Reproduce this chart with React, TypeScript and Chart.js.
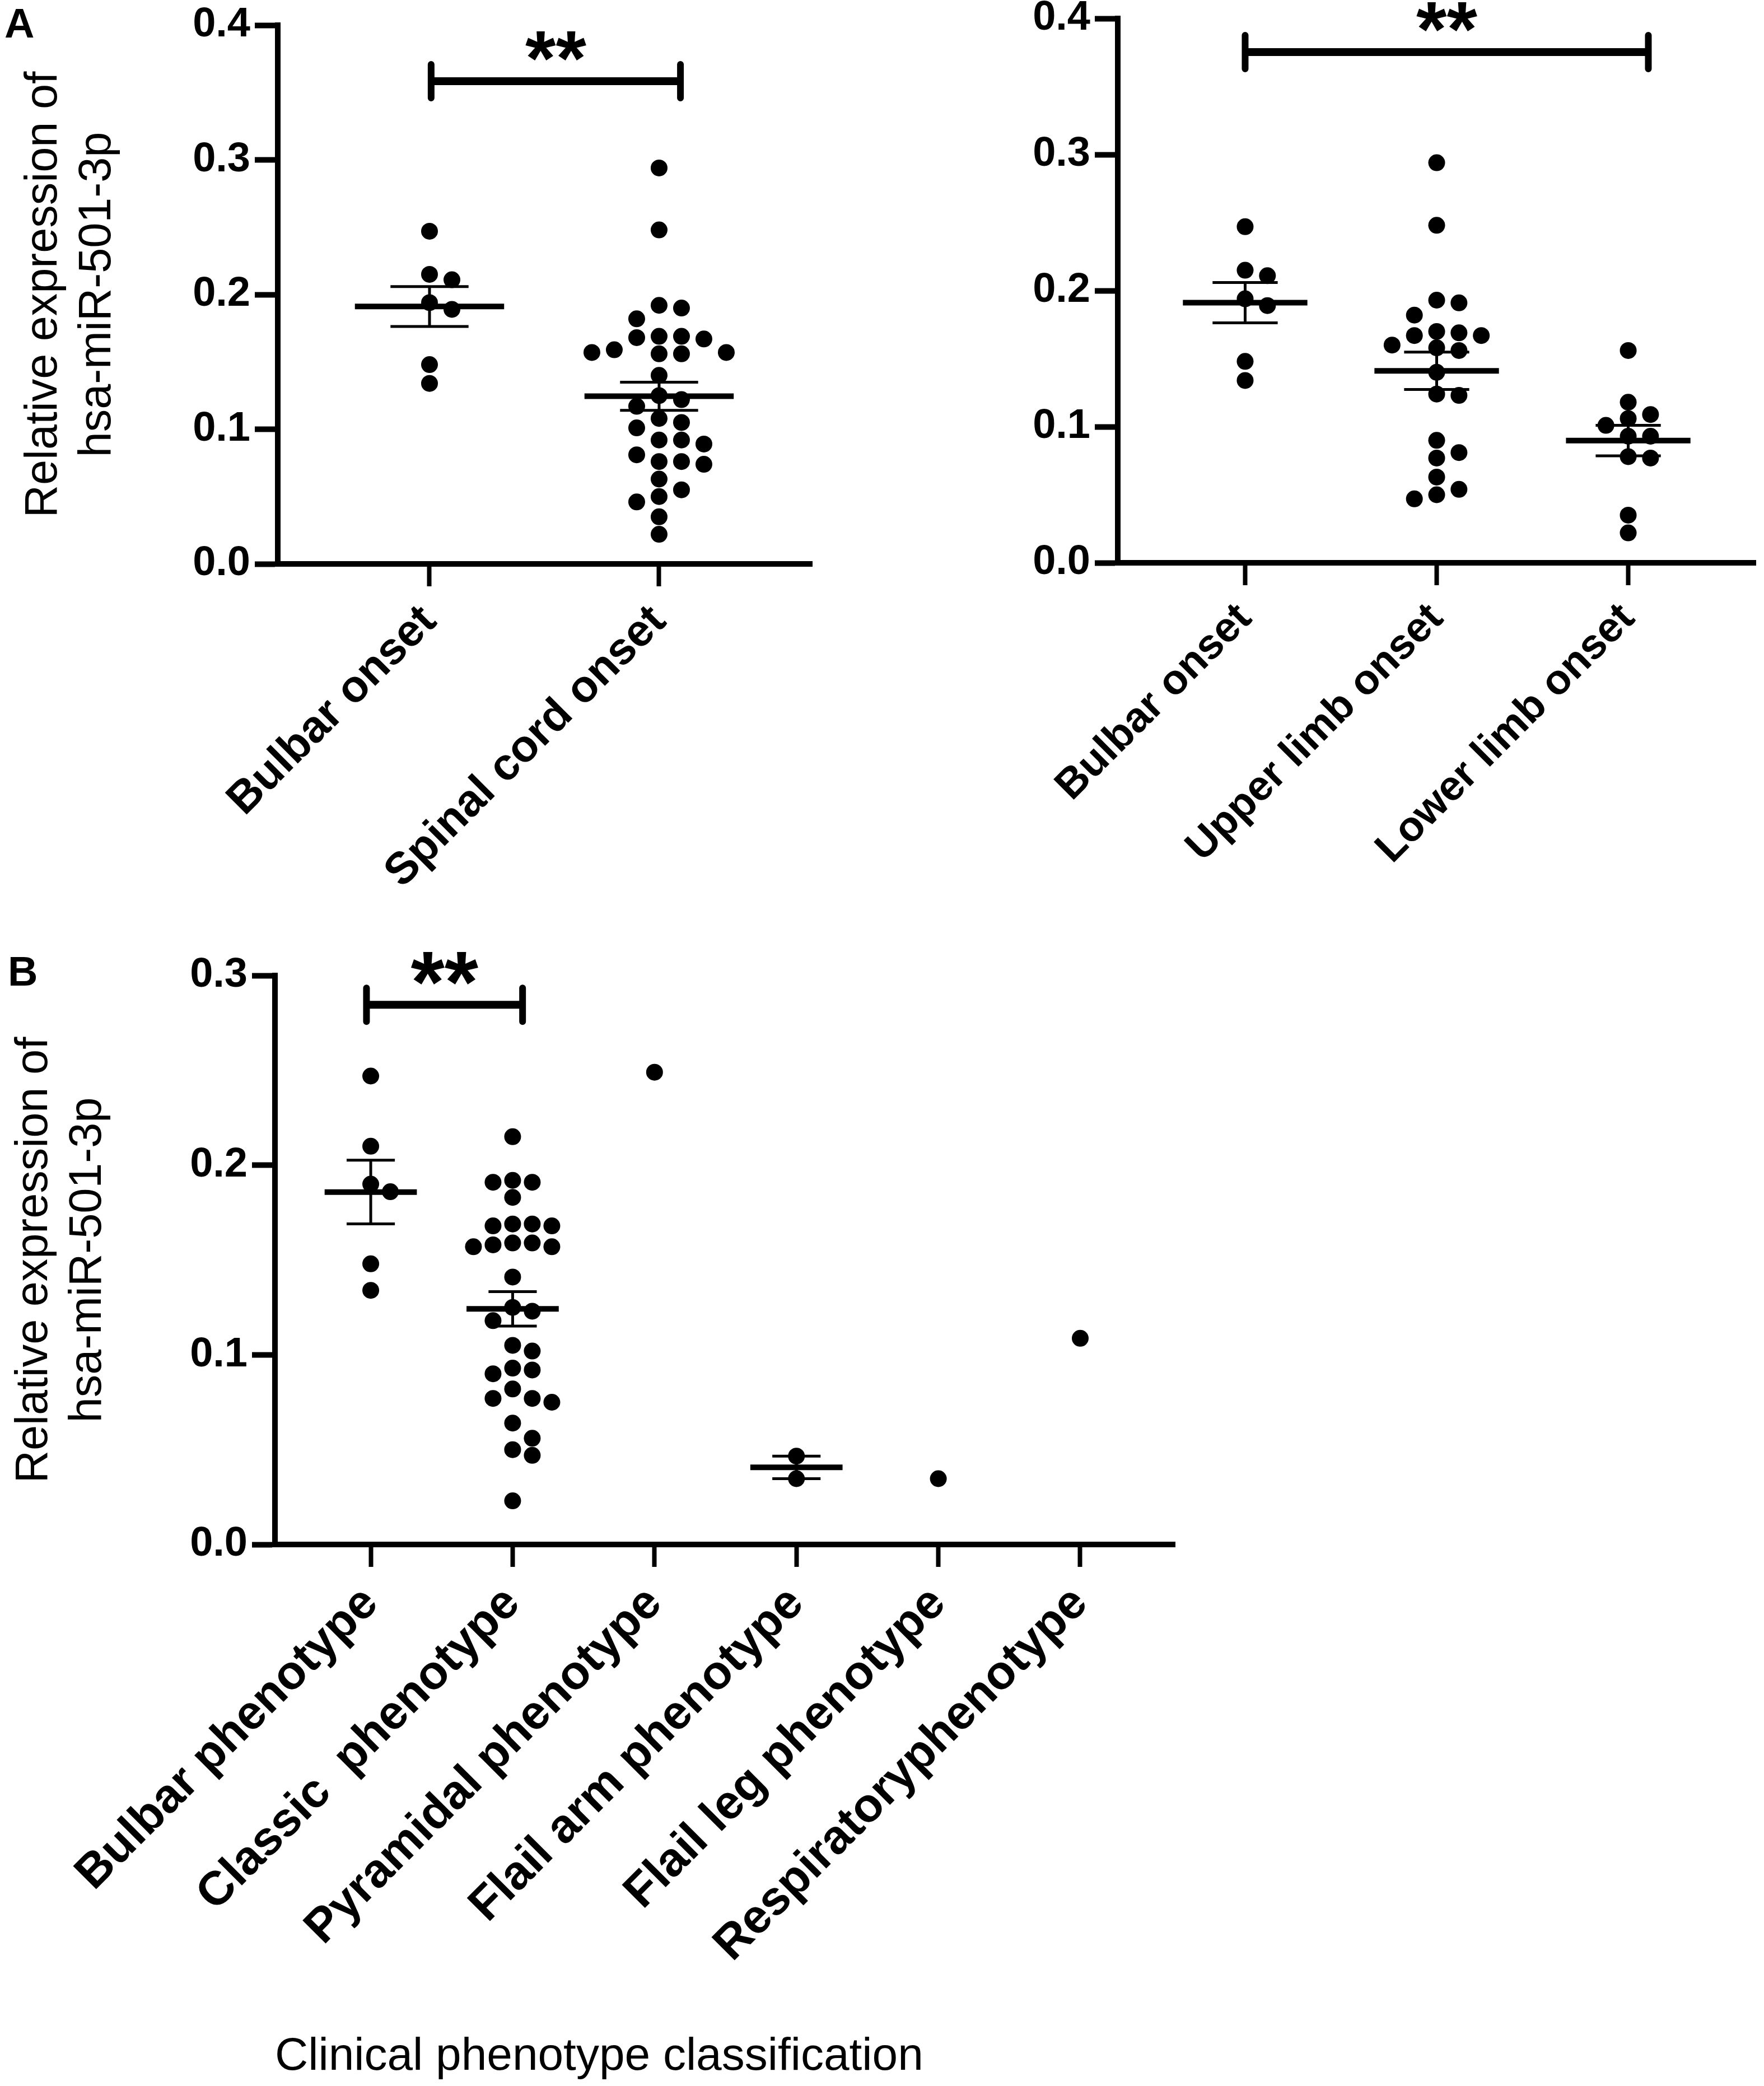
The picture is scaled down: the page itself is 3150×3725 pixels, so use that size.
import { useEffect, useRef } from 'react';
import { Chart, registerables } from 'chart.js';

Chart.register(...registerables);
Chart.defaults.font.family = '"Liberation Sans", Arial, sans-serif';
Chart.defaults.color = '#000';

// ---- categories ----
const onsetGroups = ['Bulbar onset', 'Spinal cord onset'];
const limbGroups = ['Bulbar onset', 'Upper limb onset', 'Lower limb onset'];
const phenotypeGroups = [
  'Bulbar phenotype',
  'Classic  phenotype',
  'Pyramidal phenotype',
  'Flail arm phenotype',
  'Flail leg phenotype',
  'Respiratoryphenotype',
];

// ---- values (relative expression) ----
const bulbarOnset = [0.247, 0.215, 0.211, 0.194, 0.189, 0.148, 0.134];
const spinalCordOnset = [
  0.294, 0.248, 0.192, 0.19, 0.182, 0.169, 0.169, 0.168, 0.167, 0.159, 0.157, 0.157,
  0.156, 0.156, 0.14, 0.125, 0.122, 0.117, 0.108, 0.105, 0.101, 0.092, 0.092, 0.089,
  0.081, 0.076, 0.076, 0.074, 0.063, 0.055, 0.05, 0.046, 0.035, 0.022,
];
const upperLimbOnset = [
  0.294, 0.248, 0.193, 0.191, 0.182, 0.17, 0.169, 0.167, 0.167, 0.16, 0.158, 0.156,
  0.14, 0.124, 0.123, 0.09, 0.081, 0.077, 0.063, 0.054, 0.05, 0.047,
];
const lowerLimbOnset = [0.156, 0.118, 0.109, 0.106, 0.101, 0.093, 0.093, 0.078, 0.077, 0.035, 0.022];

const bulbarPhenotype = [0.247, 0.21, 0.19, 0.186, 0.148, 0.134];
const classicPhenotype = [
  0.215, 0.192, 0.191, 0.191, 0.183, 0.169, 0.169, 0.168, 0.168, 0.159, 0.159, 0.158,
  0.157, 0.157, 0.141, 0.125, 0.123, 0.118, 0.105, 0.102, 0.093, 0.092, 0.09, 0.082,
  0.077, 0.077, 0.075, 0.064, 0.056, 0.05, 0.047, 0.023,
];
const pyramidalPhenotype = [0.249];
const flailArmPhenotype = [0.0466, 0.0347];
const flailLegPhenotype = [0.0347];
const respiratoryPhenotype = [0.1087];

// ---- axis ticks / titles ----
const onsetTicks = [0, 0.1, 0.2, 0.3, 0.4];
const phenotypeTicks = [0, 0.1, 0.2, 0.3];
const yTitle = ['Relative expression of', 'hsa-miR-501-3p'];
const xTitlePhenotype = 'Clinical phenotype classification';

interface Panel {
  key: string;
  left: number;
  top: number;
  width: number;
  height: number;
  area: { left: number; top: number; right: number; bottom: number };
  xMin: number;
  xMax: number;
  categories: string[];
  groups: number[][];
  yTicks: number[];
  yTitle?: string[];
  yTitlePad?: number;
  xTitle?: string;
  labelSize: number;
  starSize: number;
  starGap: number;
  bracket: { from: number; to: number; y: number };
  letter?: { text: string; x: number; y: number };
  colStep: number;
  radius: number;
}

const panels: Panel[] = [
  {
    key: 'a1',
    left: 0,
    top: 0,
    width: 1500,
    height: 1620,
    area: { left: 496, top: 45, right: 1450, bottom: 1007 },
    xMin: -0.661,
    xMax: 1.666,
    categories: onsetGroups,
    groups: [bulbarOnset, spinalCordOnset],
    yTicks: onsetTicks,
    yTitle,
    yTitlePad: 31,
    labelSize: 80,
    starSize: 140,
    starGap: 63,
    bracket: { from: 0.007, to: 1.093, y: 0.3584 },
    letter: { text: 'A', x: 8, y: 67 },
    colStep: 40,
    radius: 15,
  },
  {
    key: 'a2',
    left: 1500,
    top: 0,
    width: 1650,
    height: 1620,
    area: { left: 496, top: 33, right: 1640, bottom: 1005 },
    xMin: -0.665,
    xMax: 2.665,
    categories: limbGroups,
    groups: [bulbarOnset, upperLimbOnset, lowerLimbOnset],
    yTicks: onsetTicks,
    labelSize: 75,
    starSize: 140,
    starGap: 63,
    bracket: { from: 0, to: 2.105, y: 0.3753 },
    colStep: 40,
    radius: 15,
  },
  {
    key: 'b',
    left: 0,
    top: 1650,
    width: 2200,
    height: 2075,
    area: { left: 491, top: 92, right: 2098, bottom: 1108 },
    xMin: -0.675,
    xMax: 5.667,
    categories: phenotypeGroups,
    groups: [
      bulbarPhenotype,
      classicPhenotype,
      pyramidalPhenotype,
      flailArmPhenotype,
      flailLegPhenotype,
      respiratoryPhenotype,
    ],
    yTicks: phenotypeTicks,
    yTitle,
    yTitlePad: 14,
    xTitle: xTitlePhenotype,
    labelSize: 85,
    starSize: 155,
    starGap: 65,
    bracket: { from: -0.03, to: 1.07, y: 0.2846 },
    letter: { text: 'B', x: 14, y: 1760 - 1650 },
    colStep: 35,
    radius: 15,
  },
];

const mean = (v: number[]) => v.reduce((s, x) => s + x, 0) / v.length;
const sem = (v: number[]) => {
  const m = mean(v);
  const sd = Math.sqrt(v.reduce((s, x) => s + (x - m) * (x - m), 0) / (v.length - 1));
  return sd / Math.sqrt(v.length);
};

// simple beeswarm: pixel offsets so dots of one column don't overlap
function swarm(values: number[], pxPerVal: number, step: number, minDist: number): number[] {
  const order = values.map((_, i) => i).sort((a, b) => values[b] - values[a]);
  const placed: { x: number; y: number }[] = [];
  const offsets = new Array(values.length).fill(0);
  for (const i of order) {
    const py = values[i] * pxPerVal;
    for (let k = 0; k < 40; k++) {
      const cand = k === 0 ? 0 : (k % 2 === 1 ? 1 : -1) * Math.ceil(k / 2) * step;
      if (placed.every((p) => Math.hypot(p.x - cand, p.y - py) >= minDist)) {
        offsets[i] = cand;
        placed.push({ x: cand, y: py });
        break;
      }
    }
  }
  return offsets;
}

function DotPanel({ panel }: { panel: Panel }) {
  const canvasRef = useRef<HTMLCanvasElement>(null);

  useEffect(() => {
    if (!canvasRef.current) return;
    const p = panel;
    const yMax = p.yTicks[p.yTicks.length - 1];
    const pxPerCat = (p.area.right - p.area.left) / (p.xMax - p.xMin);
    const pxPerVal = (p.area.bottom - p.area.top) / yMax;

    const datasets = p.groups.map((vals, i) => {
      const offs = swarm(vals, pxPerVal, p.colStep, p.radius * 2 - 1);
      return {
        data: vals.map((v, j) => ({ x: i + offs[j] / pxPerCat, y: v })),
        backgroundColor: '#000',
        borderWidth: 0,
        pointRadius: p.radius,
        pointHoverRadius: p.radius,
      };
    });

    // mean ± SEM, significance bracket and panel letter
    const summary = {
      id: 'summary',
      afterDatasetsDraw(chart: Chart) {
        const { ctx } = chart;
        const x = chart.scales.x;
        const y = chart.scales.y;
        ctx.save();
        ctx.strokeStyle = '#000';
        ctx.fillStyle = '#000';
        p.groups.forEach((vals, i) => {
          if (vals.length < 2) return;
          const m = mean(vals);
          const e = sem(vals);
          const xc = x.getPixelForValue(i);
          const half = x.getPixelForValue(i + 0.325) - xc;
          const cap = x.getPixelForValue(i + 0.17) - xc;
          const yHi = y.getPixelForValue(m + e);
          const yLo = y.getPixelForValue(m - e);
          const ym = y.getPixelForValue(m);
          ctx.lineCap = 'butt';
          ctx.lineWidth = 5;
          ctx.beginPath();
          ctx.moveTo(xc, yHi);
          ctx.lineTo(xc, yLo);
          ctx.moveTo(xc - cap, yHi);
          ctx.lineTo(xc + cap, yHi);
          ctx.moveTo(xc - cap, yLo);
          ctx.lineTo(xc + cap, yLo);
          ctx.stroke();
          ctx.lineWidth = 10;
          ctx.beginPath();
          ctx.moveTo(xc - half, ym);
          ctx.lineTo(xc + half, ym);
          ctx.stroke();
        });

        const b = p.bracket;
        const bx0 = x.getPixelForValue(b.from);
        const bx1 = x.getPixelForValue(b.to);
        const by = y.getPixelForValue(b.y);
        ctx.lineCap = 'butt';
        ctx.lineWidth = 14;
        ctx.beginPath();
        ctx.moveTo(bx0, by);
        ctx.lineTo(bx1, by);
        ctx.stroke();
        ctx.lineCap = 'round';
        ctx.lineWidth = 12;
        ctx.beginPath();
        ctx.moveTo(bx0, by - 30);
        ctx.lineTo(bx0, by + 30);
        ctx.moveTo(bx1, by - 30);
        ctx.lineTo(bx1, by + 30);
        ctx.stroke();

        ctx.font = `bold ${p.starSize}px "Liberation Sans", Arial, sans-serif`;
        ctx.textAlign = 'center';
        ctx.textBaseline = 'alphabetic';
        const mt = ctx.measureText('**');
        const center = by - p.starGap;
        ctx.fillText('**', (bx0 + bx1) / 2, center + (mt.actualBoundingBoxAscent - mt.actualBoundingBoxDescent) / 2);

        if (p.letter) {
          ctx.font = 'bold 74px "Liberation Sans", Arial, sans-serif';
          ctx.textAlign = 'left';
          ctx.fillText(p.letter.text, p.letter.x, p.letter.y);
        }
        ctx.restore();
      },
    };

    const chart = new Chart(canvasRef.current, {
      type: 'scatter',
      data: { datasets },
      plugins: [summary],
      options: {
        responsive: false,
        animation: false,
        devicePixelRatio: 1,
        events: [],
        layout: {
          padding: { left: 0, top: p.area.top, right: p.width - p.area.right, bottom: 0 },
        },
        plugins: { legend: { display: false }, tooltip: { enabled: false } },
        scales: {
          x: {
            type: 'linear',
            min: p.xMin,
            max: p.xMax,
            afterBuildTicks: (s: any) => {
              s.ticks = p.categories.map((_, i) => ({ value: i }));
            },
            afterFit: (s: any) => {
              s.height = p.height - p.area.bottom;
              s.paddingLeft = 0;
              s.paddingRight = 0;
            },
            ticks: {
              autoSkip: false,
              minRotation: 45,
              maxRotation: 45,
              padding: 16,
              color: '#000',
              font: { size: p.labelSize, weight: 'bold' },
              callback: (v: any) => p.categories[Number(v)] ?? '',
            },
            grid: {
              drawOnChartArea: false,
              drawTicks: true,
              tickLength: 40,
              tickWidth: 8,
              tickColor: '#000',
            },
            border: { display: true, color: '#000', width: 10 },
            title: p.xTitle
              ? {
                  display: true,
                  text: p.xTitle,
                  align: 'start',
                  color: '#000',
                  font: { size: 82 },
                  padding: { top: 0, bottom: 2 },
                }
              : { display: false },
          },
          y: {
            min: 0,
            max: yMax,
            afterBuildTicks: (s: any) => {
              s.ticks = p.yTicks.map((v) => ({ value: v }));
            },
            afterFit: (s: any) => {
              s.width = p.area.left;
              s.paddingTop = 0;
              s.paddingBottom = 0;
            },
            ticks: {
              padding: 8,
              color: '#000',
              font: { size: 74, weight: 'bold' },
              callback: (v: any) => Number(v).toFixed(1),
            },
            grid: {
              drawOnChartArea: false,
              drawTicks: true,
              tickLength: 41,
              tickWidth: 10,
              tickColor: '#000',
            },
            border: { display: true, color: '#000', width: 10 },
            title: p.yTitle
              ? {
                  display: true,
                  text: p.yTitle,
                  color: '#000',
                  font: { size: 81, lineHeight: 1.18 },
                  padding: { top: p.yTitlePad ?? 0, bottom: 0 },
                }
              : { display: false },
          },
        },
      } as any,
    });

    return () => chart.destroy();
  }, [panel]);

  return (
    <canvas
      ref={canvasRef}
      width={panel.width}
      height={panel.height}
      style={{
        position: 'absolute',
        left: panel.left,
        top: panel.top,
        width: panel.width,
        height: panel.height,
      }}
    />
  );
}

export default function App() {
  return (
    <div
      style={{
        position: 'absolute',
        left: 0,
        top: 0,
        width: 3150,
        height: 3725,
        background: '#fff',
        overflow: 'hidden',
      }}
    >
      {panels.map((p) => (
        <DotPanel key={p.key} panel={p} />
      ))}
    </div>
  );
}
